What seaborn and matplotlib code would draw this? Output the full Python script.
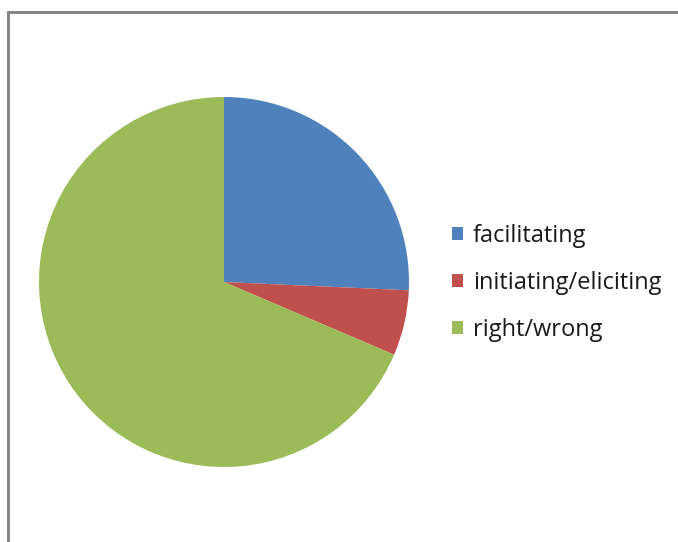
import matplotlib
matplotlib.use("Agg")

import matplotlib.pyplot as plt
from matplotlib.patches import Rectangle, Patch
import seaborn as sns

categories = ["facilitating", "initiating/eliciting", "right/wrong"]
counts = [9, 2, 24]
colors = ["#4F81BD", "#C0504D", "#9BBB59"]

sns.set_theme(style="white")
plt.rcParams["font.family"] = ["Open Sans", "DejaVu Sans"]

W, H = 678, 542
fig = plt.figure(figsize=(W / 100, H / 100), dpi=100)
fig.patch.set_facecolor("white")

# outer chart frame (only left and top visible, the rest is cropped)
frame = Rectangle((8 / W, -0.1), 1.2, (H - 12) / H + 0.1, transform=fig.transFigure,
                  fill=False, edgecolor="#878787", linewidth=2.2, clip_on=False)
fig.patches.append(frame)

# pie: center (224, 282) px, radius 185 px
cx, cy, r = 224, H - 282, 185
ax = fig.add_axes([(cx - r) / W, (cy - r) / H, 2 * r / W, 2 * r / H])
pal = sns.color_palette(colors)
ax.pie(counts, colors=pal, startangle=90, counterclock=False, radius=1,
       wedgeprops=dict(linewidth=0))
ax.set_xlim(-1, 1)
ax.set_ylim(-1, 1)
ax.set_aspect("equal")
ax.axis("off")

handles = [Patch(facecolor=c, edgecolor="none") for c in pal]
fig.legend(handles, categories, loc="center left",
           bbox_to_anchor=(452 / W, (H - 283) / H), frameon=False,
           fontsize=17, handlelength=0.47, handleheight=0.47,
           handletextpad=0.42, labelspacing=0.99, borderaxespad=0,
           borderpad=0, labelcolor="#1a1a1a")

fig.savefig("out.png", dpi=100, facecolor="white")
